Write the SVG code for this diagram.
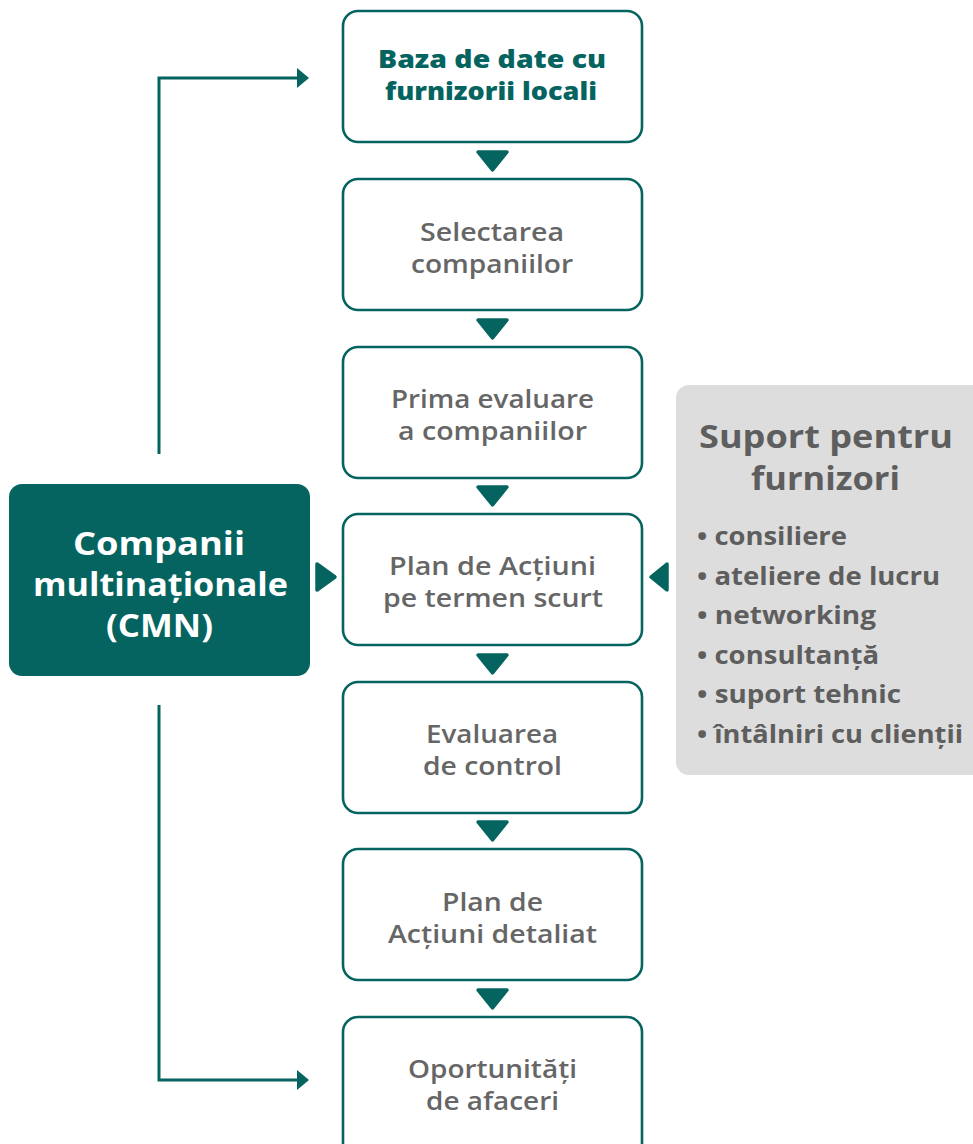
<svg xmlns="http://www.w3.org/2000/svg" width="973" height="1144" viewBox="0 0 973 1144">
<style>
.step{fill:#ffffff;stroke:#05645f;stroke-width:2.6}
.tri{fill:#05645f;stroke:#05645f;stroke-width:3.5;stroke-linejoin:round}
.line{fill:none;stroke:#05645f;stroke-width:3}
.head{fill:#05645f}
text{font-family:"Open Sans","Noto Sans",sans-serif}
.t{font-weight:600;font-size:25px;fill:#666666;text-anchor:middle}
.tt{font-weight:800;font-size:25px;fill:#05645f;text-anchor:middle}
.cmn{font-weight:700;font-size:33px;fill:#ffffff;text-anchor:middle}
.st{font-weight:700;font-size:33px;fill:#5e5e5e;text-anchor:middle}
.b{font-weight:700;font-size:25px;fill:#5e5e5e}
</style>
<rect width="973" height="1144" fill="#ffffff"/>
<g id="connectors">
<polyline class="line" points="159,454 159,78 298,78"/>
<polygon class="head" points="297,68 309,78 297,88"/>
<polyline class="line" points="159,705 159,1080 298,1080"/>
<polygon class="head" points="297,1070 309,1080 297,1090"/>
<polygon class="tri" points="478,152 507,152 492.5,170"/>
<polygon class="tri" points="478,320 507,320 492.5,338"/>
<polygon class="tri" points="478,487 507,487 492.5,505"/>
<polygon class="tri" points="478,655 507,655 492.5,673"/>
<polygon class="tri" points="478,822 507,822 492.5,840"/>
<polygon class="tri" points="478,990 507,990 492.5,1008"/>
<polygon class="tri" points="317,564 335,577 317,590"/>
<polygon class="tri" points="667,564 651,577 667,590"/>
</g>
<g id="n1">
<rect class="step" x="343" y="11" width="299" height="131" rx="15"/>
<text class="tt" x="492" y="68" textLength="228" lengthAdjust="spacingAndGlyphs">Baza de date cu</text>
<text class="tt" x="491" y="100" textLength="212" lengthAdjust="spacingAndGlyphs">furnizorii locali</text>
</g>
<g id="n2">
<rect class="step" x="343" y="179" width="299" height="131" rx="15"/>
<text class="t" x="492" y="241" textLength="144" lengthAdjust="spacingAndGlyphs">Selectarea</text>
<text class="t" x="492" y="273" textLength="162" lengthAdjust="spacingAndGlyphs">companiilor</text>
</g>
<g id="n3">
<rect class="step" x="343" y="347" width="299" height="131" rx="15"/>
<text class="t" x="492.5" y="408" textLength="203" lengthAdjust="spacingAndGlyphs">Prima evaluare</text>
<text class="t" x="492.5" y="440" textLength="189" lengthAdjust="spacingAndGlyphs">a companiilor</text>
</g>
<g id="n4">
<rect class="step" x="343" y="514" width="299" height="131" rx="15"/>
<text class="t" x="492.5" y="575" textLength="207" lengthAdjust="spacingAndGlyphs">Plan de Acțiuni</text>
<text class="t" x="493" y="607" textLength="220" lengthAdjust="spacingAndGlyphs">pe termen scurt</text>
</g>
<g id="n5">
<rect class="step" x="343" y="682" width="299" height="131" rx="15"/>
<text class="t" x="492" y="743" textLength="132" lengthAdjust="spacingAndGlyphs">Evaluarea</text>
<text class="t" x="492.5" y="775" textLength="139" lengthAdjust="spacingAndGlyphs">de control</text>
</g>
<g id="n6">
<rect class="step" x="343" y="849" width="299" height="131" rx="15"/>
<text class="t" x="492.5" y="911" textLength="101" lengthAdjust="spacingAndGlyphs">Plan de</text>
<text class="t" x="492.5" y="943" textLength="209" lengthAdjust="spacingAndGlyphs">Acțiuni detaliat</text>
</g>
<g id="n7">
<rect class="step" x="343" y="1017" width="299" height="150" rx="15"/>
<text class="t" x="492.5" y="1078" textLength="169" lengthAdjust="spacingAndGlyphs">Oportunități</text>
<text class="t" x="492.5" y="1110" textLength="133" lengthAdjust="spacingAndGlyphs">de afaceri</text>
</g>
<g id="cmn">
<rect x="9" y="484" width="301" height="192" rx="13" fill="#05645f"/>
<text class="cmn" x="159" y="555" textLength="172" lengthAdjust="spacingAndGlyphs">Companii</text>
<text class="cmn" x="160.5" y="596" textLength="255" lengthAdjust="spacingAndGlyphs">multinaționale</text>
<text class="cmn" x="159.5" y="637" textLength="107" lengthAdjust="spacingAndGlyphs">(CMN)</text>
</g>
<g id="suport">
<rect x="676" y="385" width="310" height="390" rx="13" fill="#dddddd"/>
<text class="st" x="826" y="448" textLength="254" lengthAdjust="spacingAndGlyphs">Suport pentru</text>
<text class="st" x="825.5" y="490" textLength="149" lengthAdjust="spacingAndGlyphs">furnizori</text>
<text class="b" x="697" y="545" textLength="150" lengthAdjust="spacingAndGlyphs">• consiliere</text>
<text class="b" x="697" y="585" textLength="243" lengthAdjust="spacingAndGlyphs">• ateliere de lucru</text>
<text class="b" x="697" y="624" textLength="179" lengthAdjust="spacingAndGlyphs">• networking</text>
<text class="b" x="697" y="664" textLength="182" lengthAdjust="spacingAndGlyphs">• consultanță</text>
<text class="b" x="697" y="703" textLength="204" lengthAdjust="spacingAndGlyphs">• suport tehnic</text>
<text class="b" x="697" y="743" textLength="266" lengthAdjust="spacingAndGlyphs">• întâlniri cu clienții</text>
</g>
</svg>
